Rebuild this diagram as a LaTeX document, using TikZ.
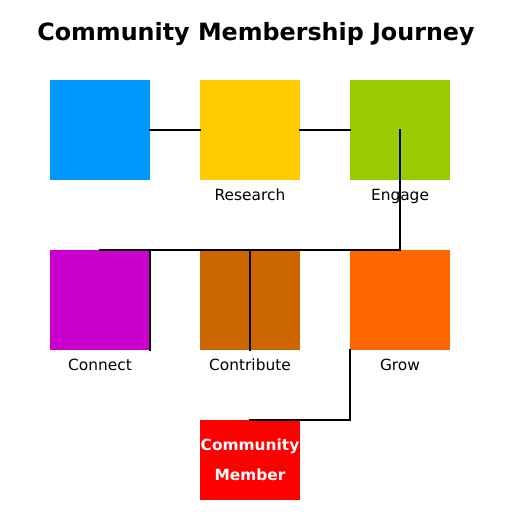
\documentclass[tikz,border=0pt]{standalone}
\usepackage{fontspec}
\setmainfont{DejaVu Sans}
\usepackage{tikz}
\usetikzlibrary{positioning}

\definecolor{stepblue}{RGB}{0,153,255}
\definecolor{stepyellow}{RGB}{255,204,0}
\definecolor{stepgreen}{RGB}{153,204,0}
\definecolor{stepmagenta}{RGB}{204,0,204}
\definecolor{stepbrown}{RGB}{204,102,0}
\definecolor{steporange}{RGB}{255,102,0}
\definecolor{stepred}{RGB}{255,0,0}

\tikzset{
  stagebox/.style={minimum width=100pt, minimum height=100pt, inner sep=0pt, outer sep=0pt},
  stagelabel/.style={font=\fontsize{15.4}{18}\selectfont, inner sep=0pt, anchor=base},
  link/.style={line width=1.5pt, line cap=rect}
}

\begin{document}
\begin{tikzpicture}[x=1pt, y=-1pt]
\useasboundingbox (0,0) rectangle (512,512);

% title
\node[font=\fontsize{23.8}{28}\selectfont\bfseries, anchor=base] (title) at (256,40) {Community Membership Journey};

% first row
\node[stagebox, fill=stepblue] (start) at (100,130) {};
\node[stagebox, fill=stepyellow] (research) at (250,130) {};
\node[stagebox, fill=stepgreen] (engage) at (400,130) {};

% second row
\node[stagebox, fill=stepmagenta] (connect) at (100,300) {};
\node[stagebox, fill=stepbrown] (contribute) at (250,300) {};
\node[stagebox, fill=steporange] (grow) at (400,300) {};

% goal
\node[stagebox, minimum height=80pt, fill=stepred, text=white, align=center,
      font=\fontsize{15.4}{29.5}\selectfont\bfseries] (member) at (250,460) {Community\\Member};

% labels
\node[stagelabel] (researchlbl) at (250,200) {Research};
\node[stagelabel] (engagelbl) at (400,200) {Engage};
\node[stagelabel] (connectlbl) at (100,370) {Connect};
\node[stagelabel] (contributelbl) at (250,370) {Contribute};
\node[stagelabel] (growlbl) at (400,370) {Grow};

% connectors
\draw[link] (start.east) -- (research.west);
\draw[link] (research.east) -- (engage.west);
\draw[link] (engage.center) -- (engage.center |- connect.north) -- (connect.north);
\draw[link] (connect.north east) -- (connect.south east);
\draw[link] (contribute.north) -- (contribute.south);
\draw[link] (grow.south west) -- (grow.south west |- member.north) -- (member.north);
\end{tikzpicture}
\end{document}
